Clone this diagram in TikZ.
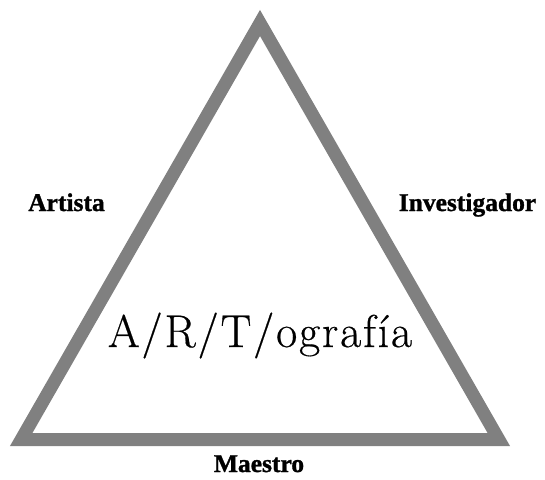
\documentclass[tikz,border=0pt]{standalone}
\usepackage{fontspec}
\newfontfamily\rolefont[FakeBold=1.2]{Liberation Serif}
\newfontfamily\titlefont[LetterSpace=4, FakeBold=0.4]{Latin Modern Roman}
\usepackage{tikz}

\begin{document}
\begin{tikzpicture}[x=1pt, y=-1pt,
    role/.style={font=\rolefont\bfseries\fontsize{25.5}{30}\selectfont, anchor=base}]
    \useasboundingbox (0, 0) rectangle (545, 479);

    % Corners of the triangle
    \coordinate (apex) at (260, 23);
    \coordinate (left) at (21.2, 439.5);
    \coordinate (right) at (498.8, 439.5);
    \draw[gray, line width=13pt, line join=miter] (apex) -- (left) -- (right) -- cycle;

    % The three roles
    \node[role] (artista) at (66.5, 211) {Artista};
    \node[role] (investigador) at (467.5, 211) {Investigador};
    \node[role] (maestro) at (259, 472) {Maestro};

    % Title inside
    \node[font=\titlefont\fontsize{46}{50}\selectfont, anchor=base] (titulo) at (260, 347) {A/R/T/ografía};
\end{tikzpicture}
\end{document}
